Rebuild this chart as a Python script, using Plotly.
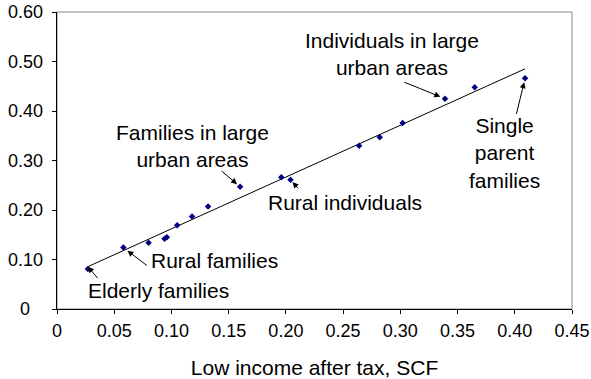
import numpy as np
import plotly.graph_objects as go

# Low income rates: after-tax measure (SCF) vs. comparison measure
low_income_scf = [0.027, 0.058, 0.080, 0.094, 0.096, 0.105, 0.118, 0.132, 0.160,
                  0.196, 0.204, 0.264, 0.282, 0.302, 0.339, 0.365, 0.409]
low_income_alt = [0.081, 0.124, 0.134, 0.142, 0.145, 0.169, 0.187, 0.207, 0.247,
                  0.266, 0.261, 0.330, 0.347, 0.376, 0.425, 0.448, 0.466]

x_ticks = [0, 0.05, 0.10, 0.15, 0.20, 0.25, 0.30, 0.35, 0.40, 0.45]
x_tick_labels = ["0", "0.05", "0.10", "0.15", "0.20", "0.25", "0.30", "0.35", "0.40", "0.45"]
y_ticks = [0, 0.10, 0.20, 0.30, 0.40, 0.50, 0.60]
y_tick_labels = ["0", "0.10", "0.20", "0.30", "0.40", "0.50", "0.60"]

FONT = "Liberation Sans, Arial, sans-serif"

# Linear trend line across the data range
slope, intercept = np.polyfit(low_income_scf, low_income_alt, 1)
trend_x = [min(low_income_scf), max(low_income_scf)]
trend_y = [slope * v + intercept for v in trend_x]

fig = go.Figure()
fig.add_trace(go.Scatter(x=trend_x, y=trend_y, mode="lines",
                         line=dict(color="black", width=1), hoverinfo="skip"))
fig.add_trace(go.Scatter(x=low_income_scf, y=low_income_alt, mode="markers",
                         marker=dict(symbol="diamond", size=5, color="#000080")))

# Group labels (text) and the point each arrow targets
labels = [
    ("Individuals in large<br>urban areas", 0.2926, 0.5157),
    ("Single<br>parent<br>families", 0.3912, 0.3151),
    ("Families in large<br>urban areas", 0.1181, 0.3302),
    ("Rural individuals", 0.2520, 0.2150),
    ("Rural families", 0.1373, 0.0980),
    ("Elderly families", 0.0889, 0.0383),
]
for text, lx, ly in labels:
    fig.add_annotation(x=lx, y=ly, text=text, showarrow=False,
                       font=dict(family=FONT, size=21, color="black"),
                       xanchor="center", yanchor="middle")

# arrows: (target x, target y, tail offset px x, tail offset px y, standoff)
arrows = [
    (low_income_scf[14], low_income_alt[14], -42, -17, 5),
    (low_income_scf[16], low_income_alt[16], -9, 37, 4),
    (low_income_scf[8], low_income_alt[8], -20, -17, 4),
    (low_income_scf[10], low_income_alt[10], 9, 10, 3),
    (low_income_scf[1], low_income_alt[1], 25, 19, 5),
    (trend_x[0], trend_y[0], 11, 13, 0),
]
for hx, hy, ax, ay, so in arrows:
    fig.add_annotation(x=hx, y=hy, ax=ax, ay=ay, text="", showarrow=True,
                       arrowhead=2, arrowsize=1.2, arrowwidth=1,
                       arrowcolor="black", standoff=so)

# y tick labels, centred in the left margin
for v, lab in zip(y_ticks, y_tick_labels):
    fig.add_annotation(x=0, xref="paper", y=v, yref="y", text=lab,
                       showarrow=False, xanchor="center", yanchor="middle",
                       xshift=-32, font=dict(family=FONT, size=18, color="black"))

# grey frame on top/right
fig.add_shape(type="rect", xref="paper", yref="paper", x0=0, x1=1, y0=0, y1=1,
              line=dict(color="#888888", width=1), layer="below")

fig.update_layout(
    width=591, height=379,
    margin=dict(l=57, r=19, t=12, b=70),
    paper_bgcolor="white", plot_bgcolor="white",
    showlegend=False,
    font=dict(family=FONT, size=18, color="black"),
    xaxis=dict(range=[0, 0.45], tickvals=x_ticks, ticktext=x_tick_labels,
               showgrid=False, zeroline=False, showline=True, linecolor="black",
               linewidth=1, ticks="outside", ticklen=4, tickcolor="black",
               ticklabelstandoff=1, automargin=False,
               title=dict(text="Low income after tax, SCF",
                          font=dict(family=FONT, size=21), standoff=23)),
    yaxis=dict(range=[0, 0.6], tickvals=y_ticks, showticklabels=False,
               showgrid=False, zeroline=False, showline=True, linecolor="black",
               linewidth=1, ticks="outside", ticklen=4, tickcolor="black",
               automargin=False),
)

fig.write_html("out.html")
